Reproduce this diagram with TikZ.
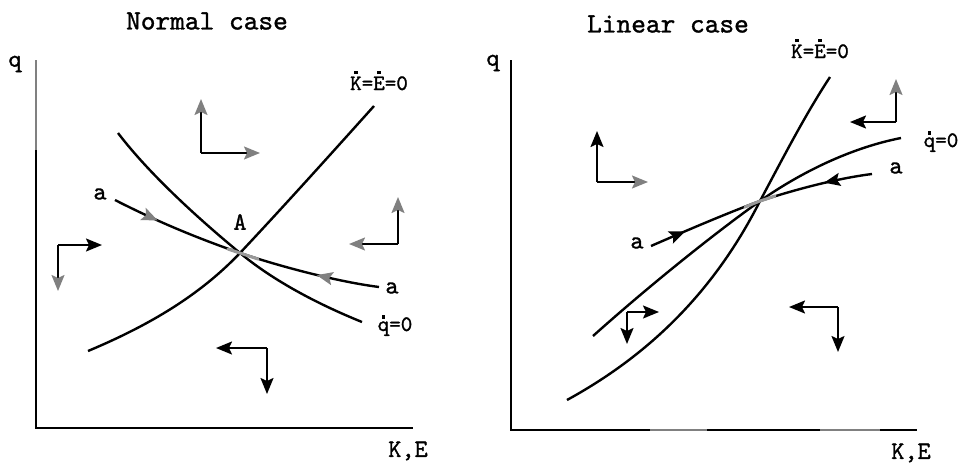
\documentclass[tikz,border=0pt]{standalone}
\usepackage{fontspec}
\newfontfamily\typ{lmmono10-regular.otf}[FakeBold=1.2]
\usetikzlibrary{arrows.meta,decorations.markings}
\newcommand{\tdot}[1]{\setbox0\hbox{#1}\leavevmode\rlap{\hbox to\wd0{\hss\rule[\dimexpr\ht0+2.5pt\relax]{3.4pt}{3.4pt}\hss}}\box0}
\begin{document}
\begin{tikzpicture}[x=1pt,y=-1pt,
 curve/.style={line width=2.4pt},
 axisline/.style={line width=2.6pt},
 pairline/.style={line width=1.9pt},
 tb/.style={-{Stealth[length=16pt,width=13pt,inset=3pt]}},
 tg/.style={-{Stealth[length=16pt,width=13pt,inset=3pt,color=gray]}},
 lbl/.style={font=\typ\fontsize{25}{25}\selectfont, inner sep=0pt},
 eqlbl/.style={font=\typ\fontsize{22}{22}\selectfont, inner sep=0pt},
 ttl/.style={font=\typ\fontsize{28}{28}\selectfont, inner sep=0pt}]
\useasboundingbox (0,0) rectangle (967,466);

% ================= LEFT PANEL =================
\node[ttl] (t1) at (207,21) {Normal case};
\coordinate (O1) at (36,428);
\coordinate (Y1) at (36,60);
\coordinate (Y1g) at (36,150);
\coordinate (X1) at (413,428);
\draw[axisline] (Y1g) -- (O1) -- (X1);
\draw[axisline, gray] (Y1) -- (Y1g);
\node[lbl] (q1) at (15,64) {q};
\node[lbl] (ke1) at (408,451) {K,E};

\coordinate (A1) at (240,253);
% K=E=0 rising curve
\draw[curve] (88,351) .. controls (150,325) and (200,295) .. (A1)
  .. controls (285,205) and (330,155) .. (374,106);
% q=0 falling curve
\draw[curve] (118,133) .. controls (150,175) and (200,220) .. (A1)
  .. controls (275,282) and (320,305) .. (362,322);
% saddle path a-a
\draw[curve, decoration={markings,
   mark=at position 0.17 with {\arrow{Stealth[length=16pt,width=13pt,inset=3pt,color=gray]}},
   mark=at position 0.83 with {\arrow{Stealth[length=16pt,width=13pt,inset=3pt,color=gray,reversed]}}},
   postaction={decorate}]
  (115,200) .. controls (160,223) and (200,239) .. (A1)
  .. controls (285,268) and (340,282) .. (379,287);
\draw[line width=3pt, gray!80, line cap=round] (228,249) -- (A1) -- (258,259);

\node[lbl] (A) at (240,222) {A};
\node[lbl] (a1l) at (100,194) {a};
\node[lbl] (a1r) at (392,288) {a};
\node[eqlbl, anchor=base] (keq1) at (379,90) {\tdot{K}=\tdot{E}=0};
\node[eqlbl, anchor=base] (qeq1) at (395,331) {\tdot{q}=0};

% direction arrows, left panel
\coordinate (c1) at (201,153);
\coordinate (c1u) at (201,99);
\coordinate (c1r) at (260,153);
\draw[pairline, tg] (c1) -- (c1u);
\draw[pairline, tg] (c1) -- (c1r);

\coordinate (c2) at (398,244);
\coordinate (c2u) at (398,197);
\coordinate (c2l) at (349,244);
\draw[pairline, tg] (c2) -- (c2u);
\draw[pairline, tg] (c2) -- (c2l);

\coordinate (c3) at (58,245);
\coordinate (c3r) at (102,245);
\coordinate (c3d) at (58,291);
\draw[pairline, tb] (c3) -- (c3r);
\draw[pairline, tg] (c3) -- (c3d);

\coordinate (c4) at (267,348);
\coordinate (c4l) at (216,348);
\coordinate (c4d) at (267,394);
\draw[pairline, tb] (c4) -- (c4l);
\draw[pairline, tb] (c4) -- (c4d);

% ================= RIGHT PANEL =================
\node[ttl] (t2) at (668,24) {Linear case};
\coordinate (O2) at (511,430);
\coordinate (Y2) at (511,60);
\coordinate (X2) at (917,430);
\draw[axisline] (Y2) -- (O2) -- (X2);
\coordinate (g1a) at (650,430);
\coordinate (g1b) at (707,430);
\coordinate (g2a) at (820,430);
\coordinate (g2b) at (880,430);
\draw[axisline, gray] (g1a) -- (g1b);
\draw[axisline, gray] (g2a) -- (g2b);
\node[lbl] (q2) at (493,63) {q};
\node[lbl] (ke2) at (911,453) {K,E};

\coordinate (A2) at (760,201);
% K=E=0 steep curve
\draw[curve] (567,400) .. controls (640,360) and (710,300) .. (A2)
  .. controls (783,158) and (805,115) .. (830,77);
% q=0 curve
\draw[curve] (593,336) .. controls (650,285) and (715,233) .. (A2)
  .. controls (800,173) and (850,148) .. (901,138);
% saddle path
\draw[curve, decoration={markings,
   mark=at position 0.16 with {\arrow{Stealth[length=16pt,width=13pt,inset=3pt]}},
   mark=at position 0.86 with {\arrow{Stealth[length=16pt,width=13pt,inset=3pt,reversed]}}},
   postaction={decorate}]
  (651,246) .. controls (690,229) and (730,212) .. (A2)
  .. controls (800,188) and (840,178) .. (872,174);
\draw[line width=3pt, gray!80, line cap=round] (745,207) -- (A2) -- (775,196);

\node[lbl] (a2l) at (637,243) {a};
\node[lbl] (a2r) at (896,168) {a};
\node[eqlbl, anchor=base] (keq2) at (820,58) {\tdot{K}=\tdot{E}=0};
\node[eqlbl, anchor=base] (qeq2) at (941,147) {\tdot{q}=0};

% direction arrows, right panel
\coordinate (d1) at (597,182);
\coordinate (d1u) at (597,131);
\coordinate (d1r) at (648,182);
\draw[pairline, tb] (d1) -- (d1u);
\draw[pairline, tg] (d1) -- (d1r);

\coordinate (d2) at (896,122);
\coordinate (d2u) at (896,79);
\coordinate (d2l) at (850,122);
\draw[pairline, tg] (d2) -- (d2u);
\draw[pairline, tb] (d2) -- (d2l);

\coordinate (d3) at (627,312);
\coordinate (d3r) at (659,312);
\coordinate (d3d) at (627,344);
\draw[pairline, tb] (d3) -- (d3r);
\draw[pairline, tb] (d3) -- (d3d);

\coordinate (d4) at (838,307);
\coordinate (d4l) at (789,307);
\coordinate (d4d) at (838,352);
\draw[pairline, tb] (d4) -- (d4l);
\draw[pairline, tb] (d4) -- (d4d);
\end{tikzpicture}
\end{document}
